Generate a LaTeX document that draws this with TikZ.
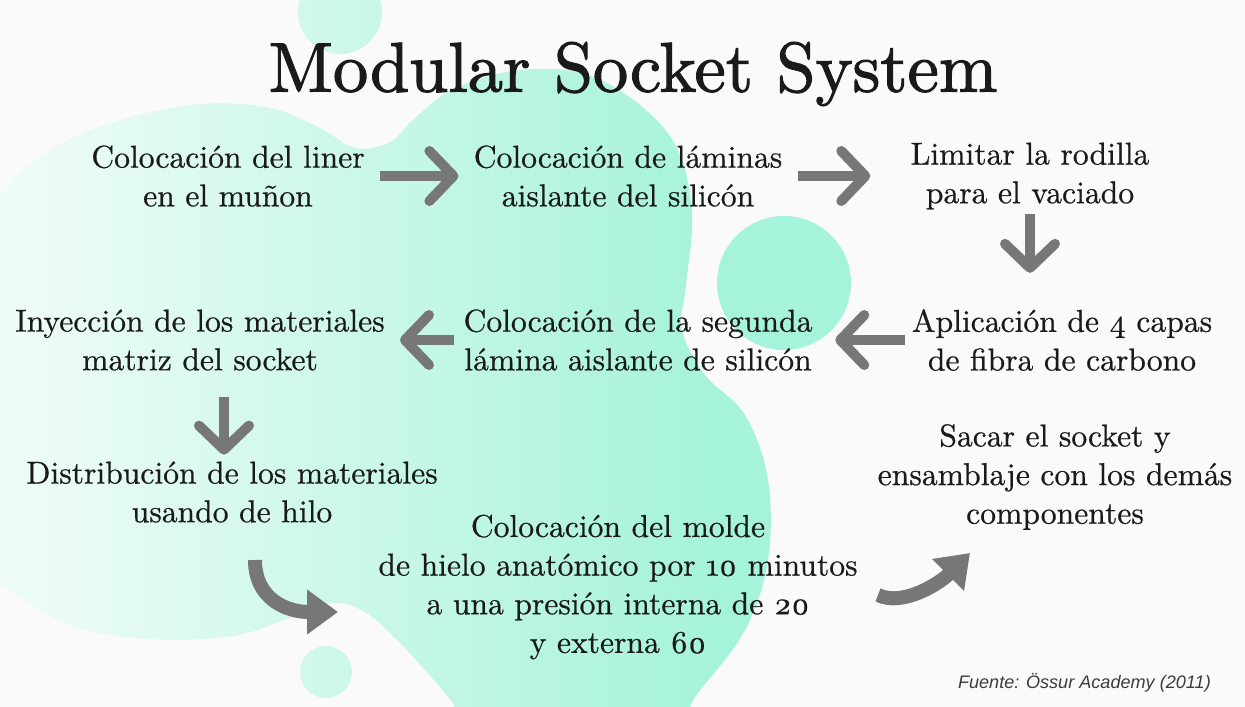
\documentclass[tikz,border=0pt]{standalone}
\usepackage{fontspec}
\setmainfont{lmroman10-regular.otf}[Numbers=OldStyle]
\newfontfamily\pasofont{lmroman10-regular.otf}[Numbers=OldStyle, FakeBold=0.6]
\newfontfamily\titlefont{lmroman10-regular.otf}[FakeBold=1.6]
\newfontfamily\fuentefont{Liberation Sans}
\usetikzlibrary{arrows.meta}

\definecolor{mint}{HTML}{A5F3DA}
\definecolor{mintpale}{HTML}{F0FCF7}
\definecolor{pagebg}{HTML}{FAFAFA}
\definecolor{arrowgray}{HTML}{777777}
\definecolor{ink}{HTML}{1A1A1A}

\tikzset{
  paso/.style={align=center, text=ink, inner sep=0.3cm, font=\pasofont\fontsize{18}{22}\selectfont},
  flecha/.style={draw=arrowgray, line width=0.2cm, -{Straight Barb[round, length=0.48cm, width=1cm]}},
  curva/.style={draw=arrowgray, line width=0.28cm, -{Triangle[length=0.62cm, width=0.86cm]}},
}

\begin{document}
\begin{tikzpicture}[x=0.02cm, y=-0.02cm]
  \useasboundingbox (0,0) rectangle (1245,707);
  \fill[pagebg] (0,0) rectangle (1245,707);
  % blob behind the steps
  \begin{scope}
    \clip (0,0) rectangle (1245,707);
    \clip plot[smooth cycle, tension=0.6] coordinates {
      (-40,240) (0,192) (50,150) (120,120) (200,104) (270,108) (320,128) (355,148)
      (390,142) (415,118) (455,88) (520,70) (585,74) (640,105) (678,150)
      (692,215) (686,285) (682,330) (705,375) (745,415) (768,480) (768,560)
      (745,630) (700,690) (650,745) (480,745) (452,702) (425,670) (395,638)
      (365,612) (333,603) (290,618) (233,636) (150,639) (70,625) (0,585) (-40,560)}
      (340,12) circle[radius=42] (784,283) circle[radius=67] (326,672) circle[radius=26];
    \shade[left color=mintpale, right color=mint] (0,0) rectangle (720,707);
    \fill[mint] (720,0) rectangle (1245,707);
  \end{scope}

  \node[text=ink, font=\titlefont\fontsize{40}{48}\selectfont] (titulo) at (633,74) {Modular Socket System};

  \node[paso] (liner) at (228,176) {Colocación del liner\\en el muñon};
  \node[paso] (laminas) at (628,176) {Colocación de láminas\\aislante del silicón};
  \node[paso] (rodilla) at (1030,176) {Limitar la rodilla\\para el vaciado};
  \node[paso] (fibra) at (1062,340) {Aplicación de 4 capas\\de fibra de carbono};
  \node[paso] (segunda) at (638,340) {Colocación de la segunda\\lámina aislante de silicón};
  \node[paso] (inyeccion) at (200,340) {Inyección de los materiales\\matriz del socket};
  \node[paso] (hilo) at (232,492) {Distribución de los materiales\\usando de hilo};
  \node[paso] (molde) at (618,587) {Colocación del molde\\de hielo anatómico por 10 minutos\\a una presión interna de 20\\y externa 60};
  \node[paso] (ensamblaje) at (1055,477) {Sacar el socket y\\ensamblaje con los demás\\componentes};
  \node[anchor=east, text=ink!85, font=\fuentefont\itshape\fontsize{10.3}{12}\selectfont] (fuente) at (1217,683) {Fuente: Össur Academy (2011)};

  \draw[flecha] (liner) -- (laminas);
  \draw[flecha, shorten >=0.5cm] (laminas) -- (rodilla);
  \draw[flecha, shorten <=-0.22cm, shorten >=0.42cm] (rodilla) -- (rodilla |- fibra.north);
  \draw[flecha, shorten >=0.15cm] ([xshift=0.16cm]fibra.west) -- (segunda);
  \draw[flecha] ([xshift=0.12cm]segunda.west) -- (inyeccion);
  \draw[flecha, shorten <=0.23cm, shorten >=-0.17cm] ([xshift=0.48cm]inyeccion.south) -- ([xshift=0.48cm]inyeccion.south |- hilo.north);
  \draw[curva] ([shift={(23,68)}]hilo.center) .. controls +(0,40) and +(-50,0) .. ([shift={(-280,25)}]molde.center);
  \draw[curva] ([shift={(260,8)}]molde.center) .. controls +(25,12) and +(-30,30) .. ([shift={(-85,76)}]ensamblaje.center);
\end{tikzpicture}
\end{document}
